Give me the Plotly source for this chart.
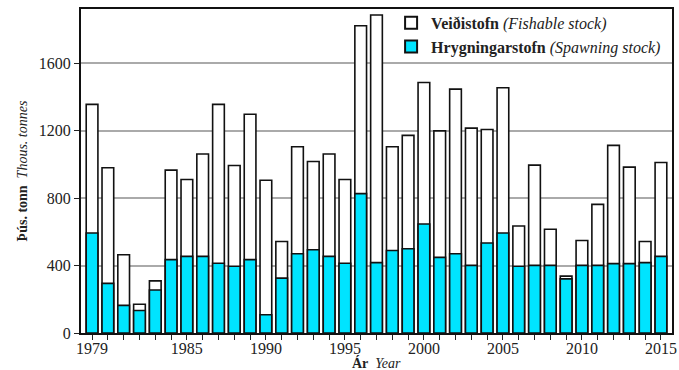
import plotly.graph_objects as go

years = list(range(1979, 2016))
fishable = [1355, 979, 464, 170, 309, 965, 910, 1061, 1355, 993, 1296, 905, 542,
            1104, 1016, 1061, 910, 1821, 1884, 1104, 1171, 1484, 1198, 1445, 1214,
            1206, 1453, 634, 995, 615, 337, 548, 762, 1112, 983, 542, 1010]
spawning = [593, 294, 164, 133, 255, 435, 454, 454, 413, 396, 435, 108, 325,
            470, 493, 454, 413, 826, 417, 489, 499, 646, 448, 470, 401,
            533, 593, 396, 401, 401, 321, 401, 401, 411, 411, 417, 454]
label_years = [1979, 1985, 1990, 1995, 2000, 2005, 2010, 2015]
y_ticks = [0, 400, 800, 1200, 1600]

font_family = "Liberation Serif"

fig = go.Figure()
fig.add_trace(go.Bar(
    x=years, y=fishable, name="<b>Veiðistofn</b> <i>(Fishable stock)</i>",
    marker=dict(color="white", line=dict(color="#111", width=1.6)), width=0.74))
fig.add_trace(go.Bar(
    x=years, y=spawning, name="<b>Hrygningarstofn</b> <i>(Spawning stock)</i>",
    marker=dict(color="#00E4FF", line=dict(color="#111", width=1.6)), width=0.74))

fig.update_layout(
    width=679, height=370,
    margin=dict(l=81, r=7, t=6, b=37),
    barmode="overlay",
    plot_bgcolor="white", paper_bgcolor="white",
    font=dict(family=font_family, size=16, color="#222"),
    showlegend=True,
    legend=dict(x=0.99, y=1.01, xanchor="right", yanchor="top",
                bgcolor="rgba(255,255,255,0)", font=dict(size=16),
                tracegroupgap=0, itemsizing="constant"),
    xaxis=dict(
        range=[1978.3, 2015.7],
        tickvals=label_years,
        ticks="",
        minor=dict(tickvals=years, ticks="outside", ticklen=5, tickwidth=1.2,
                   tickcolor="#222", showgrid=False),
        showline=True, linecolor="#111", linewidth=2, mirror=True,
        showgrid=False, zeroline=False, automargin=False,
        tickfont=dict(size=16),
    ),
    yaxis=dict(
        range=[0, 1920],
        tickvals=y_ticks,
        ticks="outside", ticklen=5, tickwidth=1.2, tickcolor="#222",
        showline=True, linecolor="#111", linewidth=2, mirror=True,
        showgrid=True, gridcolor="#aaaaaa", gridwidth=1.5, zeroline=False,
        automargin=False,
        title=dict(text="<b>Þús. tonn</b>  <i>Thous. tonnes</i>", standoff=8, font=dict(size=14)),
        tickfont=dict(size=16),
    ),
    annotations=[dict(
        text="<b>Ár</b>  <i>Year</i>", xref="paper", yref="paper",
        x=0.5, y=-0.092, xanchor="center", yanchor="middle",
        showarrow=False, font=dict(size=14, family=font_family, color="#222"))],
)

fig.write_html("out.html")
